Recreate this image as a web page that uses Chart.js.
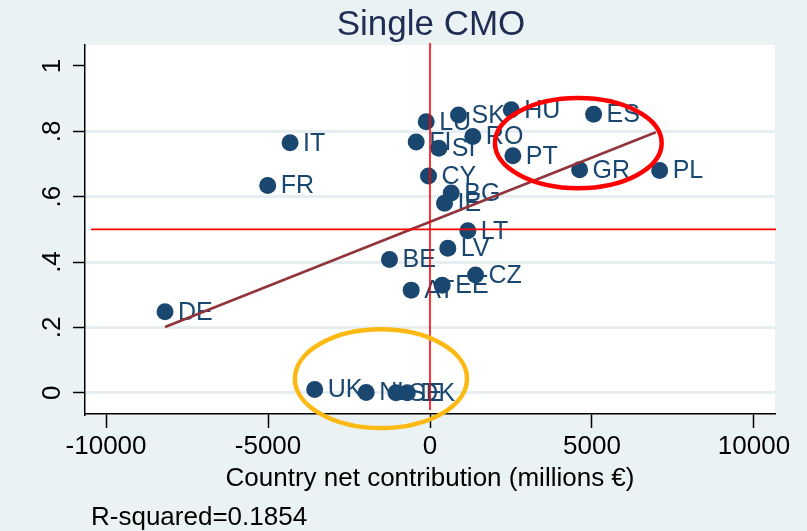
<!DOCTYPE html>
<html>
<head>
<meta charset="utf-8">
<script src="https://cdn.jsdelivr.net/npm/chart.js@4.4.1/dist/chart.umd.min.js"></script>
<style>
  html, body { margin: 0; padding: 0; background: #EAF2F3; }
  #wrap { width: 807px; height: 531px; }
</style>
</head>
<body>
<div id="wrap"><canvas id="myChart" width="807" height="531"></canvas></div>
<script>
// country codes and values
var countries = ["DE", "FR", "IT", "UK", "NL", "SE", "DK", "LU", "SK", "HU", "FI", "SI", "RO", "PT", "CY",
                 "BG", "IE", "LT", "LV", "BE", "CZ", "EE", "AT", "ES", "GR", "PL"];
var netContribution = [-8180, -5010, -4320, -3560, -1970, -1050, -700, -117, 880, 2508, -426, 272, 1322, 2558, -46,
                       655, 448, 1168, 550, -1251, 1406, 377, -581, 5050, 4618, 7090];
var singleCMO = [0.248, 0.634, 0.765, 0.010, 0.001, 0.000, 0.000, 0.829, 0.850, 0.866, 0.767, 0.748, 0.784, 0.725, 0.663,
                 0.611, 0.580, 0.496, 0.442, 0.408, 0.360, 0.329, 0.314, 0.852, 0.682, 0.680];

// fitted line end points
var fitX = [-8180, 6970];
var fitY = [0.201, 0.797];

var xTicks = [-10000, -5000, 0, 5000, 10000];
var yTicks = [0, 0.2, 0.4, 0.6, 0.8, 1];
var yTickLabels = ["0", ".2", ".4", ".6", ".8", "1"];

var refX = 0;
var refY = 0.5;

// highlight ellipses: centre x, centre y, radius x, radius y (data units)
var ellipseCx = [4578, -1514];
var ellipseCy = [0.764, 0.043];
var ellipseRx = [2574, 2657];
var ellipseRy = [0.138, 0.151];
var ellipseColors = ["#FF0000", "#FDB913"];

var rSquaredText = "R-squared=0.1854";

var points = countries.map(function(c, i) {
    return { x: netContribution[i], y: singleCMO[i] };
});
var fitPoints = fitX.map(function(x, i) { return { x: x, y: fitY[i] }; });

var navy = "#1A476F";
var fontFam = "'Liberation Sans', Arial, sans-serif";

var stataPlugin = {
    id: 'stata',
    beforeDraw: function(chart) {
        var ctx = chart.ctx, a = chart.chartArea;
        ctx.save();
        ctx.fillStyle = "#EAF2F3";
        ctx.fillRect(0, 0, chart.width, chart.height);
        ctx.fillStyle = "#FFFFFF";
        ctx.fillRect(a.left, a.top, a.right - a.left, a.bottom - a.top);
        ctx.restore();
    },
    afterDatasetDraw: function(chart, args) {
        if (args.index !== 0) return;
        var ctx = chart.ctx;
        var meta = chart.getDatasetMeta(0);
        ctx.save();
        ctx.font = "25px " + fontFam;
        ctx.fillStyle = navy;
        ctx.textBaseline = "middle";
        ctx.textAlign = "left";
        meta.data.forEach(function(el, i) {
            ctx.fillText(countries[i], el.x + 13, el.y + 1);
        });
        ctx.restore();
    },
    afterDatasetsDraw: function(chart) {
        var ctx = chart.ctx, a = chart.chartArea;
        var xs = chart.scales.x, ys = chart.scales.y;
        ctx.save();
        // reference lines
        ctx.strokeStyle = "#FF0000";
        ctx.lineWidth = 1.6;
        var px = xs.getPixelForValue(refX);
        ctx.beginPath();
        ctx.moveTo(px, a.top - 2);
        ctx.lineTo(px, a.bottom - 4);
        ctx.stroke();
        var py = ys.getPixelForValue(refY);
        ctx.beginPath();
        ctx.moveTo(a.left + 6, py);
        ctx.lineTo(a.right + 1, py);
        ctx.stroke();

        // ellipses
        ctx.lineWidth = 4.5;
        for (var i = 0; i < ellipseCx.length; i++) {
            var cx = xs.getPixelForValue(ellipseCx[i]);
            var cy = ys.getPixelForValue(ellipseCy[i]);
            var rx = Math.abs(xs.getPixelForValue(ellipseCx[i] + ellipseRx[i]) - cx);
            var ry = Math.abs(ys.getPixelForValue(ellipseCy[i] + ellipseRy[i]) - cy);
            ctx.strokeStyle = ellipseColors[i];
            ctx.beginPath();
            ctx.ellipse(cx, cy, rx, ry, 0, 0, Math.PI * 2);
            ctx.stroke();
        }
        ctx.restore();
    },
    afterDraw: function(chart) {
        var ctx = chart.ctx, a = chart.chartArea;
        var ys = chart.scales.y;
        ctx.save();
        // y tick labels, rotated like Stata
        ctx.font = "26px " + fontFam;
        ctx.fillStyle = "#000";
        ctx.textAlign = "center";
        ctx.textBaseline = "alphabetic";
        yTicks.forEach(function(v, i) {
            var py = ys.getPixelForValue(v);
            ctx.save();
            ctx.translate(60, py);
            ctx.rotate(-Math.PI / 2);
            ctx.fillText(yTickLabels[i], 0, 0);
            ctx.restore();
        });
        // title
        var cxm = (a.left + a.right) / 2;
        ctx.font = "35px " + fontFam;
        ctx.fillStyle = "#1F2D55";
        ctx.fillText("Single CMO", cxm + 1, 35);
        // x axis title
        ctx.font = "26px " + fontFam;
        ctx.fillStyle = "#000";
        ctx.fillText("Country net contribution (millions \u20AC)", cxm, 486);
        // note
        ctx.textAlign = "left";
        ctx.fillText(rSquaredText, 91, 525);
        ctx.restore();
    }
};

var ctx = document.getElementById('myChart').getContext('2d');
var myChart = new Chart(ctx, {
    type: 'scatter',
    data: {
        datasets: [{
            label: 'Single CMO',
            data: points,
            backgroundColor: navy,
            borderColor: navy,
            pointRadius: 8.5,
            pointHoverRadius: 8.5,
            borderWidth: 0,
            order: 2
        }, {
            label: 'Fitted values',
            data: fitPoints,
            showLine: true,
            borderColor: "#90353B",
            borderWidth: 2.6,
            pointRadius: 0,
            fill: false,
            order: 1
        }]
    },
    options: {
        responsive: false,
        animation: false,
        events: [],
        layout: { padding: { top: 45, right: 32, left: 0, bottom: 0 } },
        plugins: {
            legend: { display: false },
            title: { display: false },
            tooltip: { enabled: false }
        },
        scales: {
            x: {
                type: 'linear',
                min: -10650,
                max: 10650,
                afterBuildTicks: function(s) { s.ticks = xTicks.map(function(v) { return { value: v }; }); },
                afterFit: function(s) { s.height = 117; },
                grid: { drawOnChartArea: false, drawTicks: true, tickLength: 14, tickColor: "#000", tickWidth: 1.5 },
                border: { display: true, color: "#000", width: 1.5 },
                ticks: {
                    font: { family: fontFam, size: 26 },
                    color: "#000",
                    padding: 3,
                    maxRotation: 0,
                    callback: function(v) { return String(v); }
                }
            },
            y: {
                type: 'linear',
                min: -0.065,
                max: 1.064,
                afterBuildTicks: function(s) { s.ticks = yTicks.map(function(v) { return { value: v }; }); },
                afterFit: function(s) { s.width = 85; },
                grid: {
                    color: function(c) { return c.tick && c.tick.value === 1 ? "rgba(0,0,0,0)" : "#E6EEF1"; },
                    lineWidth: 3,
                    drawTicks: true,
                    tickLength: 12,
                    tickColor: "#000",
                    tickWidth: 1.5
                },
                border: { display: true, color: "#000", width: 1.5 },
                ticks: { display: false }
            }
        }
    },
    plugins: [stataPlugin]
});
</script>
</body>
</html>
